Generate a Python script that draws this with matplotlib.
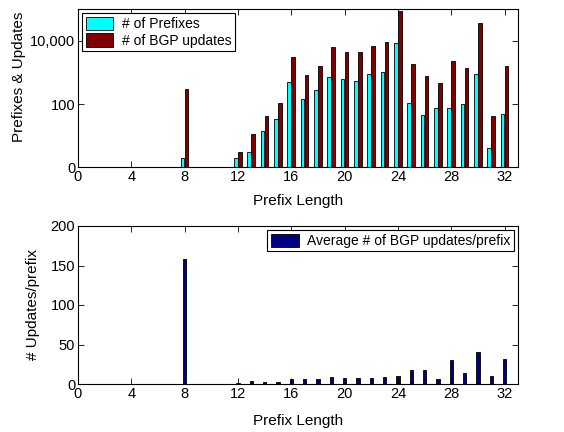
import matplotlib
matplotlib.use('Agg')
import matplotlib.pyplot as plt
import numpy as np

plt.rcParams['font.family'] = ['Liberation Sans', 'DejaVu Sans']

# prefix lengths with data
lengths = [8, 12, 13, 14, 15, 16, 17, 18, 19, 20, 21, 22, 23, 24, 25, 26, 27, 28, 29, 30, 31, 32]
# number of prefixes per length
prefixes = [2, 2, 3, 14, 34, 500, 147, 270, 725, 625, 555, 875, 1065, 8300,
            107, 44, 77, 75, 100, 920, 4, 50]
# number of BGP updates per length
updates = [310, 3, 11, 41, 105, 3100, 835, 1560, 6500, 4600, 4400, 7100, 9500, 88000,
           1900, 800, 480, 2240, 1420, 37000, 43, 1560]
# average updates per prefix
avg_updates = [158, 1.3, 3.8, 3, 3, 6.3, 5.9, 5.9, 8.8, 7.6, 8, 8, 8.8, 10,
               17.7, 18.1, 6.3, 30.3, 14.3, 40.4, 10.5, 31.6]

xticks = list(range(0, 33, 4))

fig = plt.figure(figsize=(5.64, 4.32), dpi=100)
ax1 = fig.add_axes([78/564, 1 - 167.3/432, 440/564, 158/432])
ax2 = fig.add_axes([78/564, 1 - 384/432, 440/564, 158/432])

x = np.array(lengths)
w = 0.27
ax1.bar(x - 0.17, prefixes, width=w, color='#00ffff', edgecolor='black', linewidth=0.6,
        label='# of Prefixes')
ax1.bar(x + 0.14, updates, width=w, color='#800000', edgecolor='black', linewidth=0.6,
        label='# of BGP updates')
ax1.set_yscale('log')
ax1.set_ylim(1, 1e5)
ax1.set_yticks([1, 100, 10000])
ax1.set_yticklabels(['0', '100', '10,000'])
ax1.minorticks_off()
ax1.set_ylabel('Prefixes & Updates', fontsize=11)
ax1.yaxis.set_label_coords(-0.118, 0.57)
ax1.xaxis.set_label_coords(0.54, -0.17)
leg1 = ax1.legend(loc='upper left', fontsize=10, fancybox=False, edgecolor='black',
                  framealpha=1, handlelength=2.0, handleheight=1.1, borderaxespad=0.3,
                  borderpad=0.25, labelspacing=0.15, handletextpad=0.6)
leg1.get_frame().set_linewidth(0.8)

ax2.bar(x, avg_updates, width=w, color='#000080', edgecolor='black', linewidth=0.6,
        label='Average # of BGP updates/prefix')
ax2.set_ylim(0, 200)
ax2.set_yticks([0, 50, 100, 150, 200])
ax2.set_ylabel('# Updates/prefix', fontsize=11)
ax2.yaxis.set_label_coords(-0.086, 0.5)
ax2.xaxis.set_label_coords(0.53, -0.19)
leg2 = ax2.legend(loc='upper right', fontsize=10, fancybox=False, edgecolor='black',
                  framealpha=1, handlelength=2.0, handleheight=1.1, borderaxespad=0.3,
                  borderpad=0.25, handletextpad=0.6)
leg2.get_frame().set_linewidth(0.8)

for ax in (ax1, ax2):
    ax.set_xlim(0, 33)
    ax.set_xticks(xticks)
    ax.set_xlabel('Prefix Length', fontsize=11)
    ax.tick_params(direction='in', top=True, right=True, labelsize=10.5, length=4, width=0.6, pad=2)
    for s in ax.spines.values():
        s.set_linewidth(0.8)

fig.savefig('out.png', dpi=100)
